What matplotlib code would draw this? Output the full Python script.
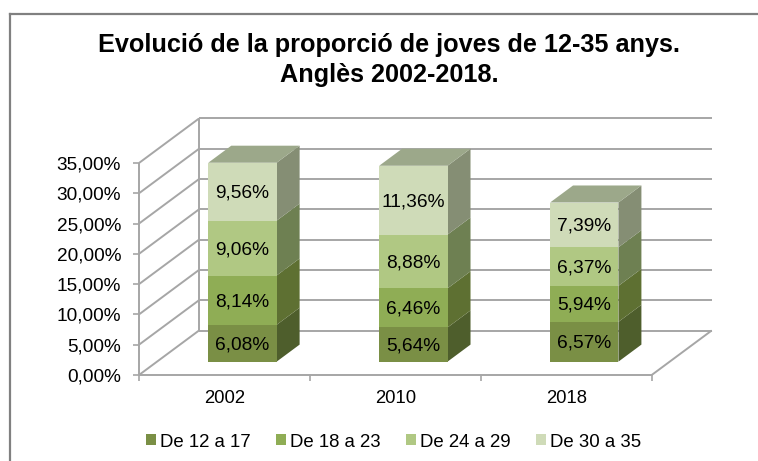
import matplotlib
matplotlib.use("Agg")
import matplotlib.pyplot as plt
from matplotlib.patches import Polygon, Rectangle

W, H = 758, 461

YEARS = ["2002", "2010", "2018"]
SERIES = ["De 12 a 17", "De 18 a 23", "De 24 a 29", "De 30 a 35"]
V_12_17 = [6.08, 5.64, 6.57]
V_18_23 = [8.14, 6.46, 5.94]
V_24_29 = [9.06, 8.88, 6.37]
V_30_35 = [9.56, 11.36, 7.39]
YTICKS = [0, 5, 10, 15, 20, 25, 30, 35]

FRONT = ["#7A8F45", "#8FAD55", "#B0C883", "#CFDBB8"]
SIDE = ["#4E5E2C", "#5E7032", "#6E8052", "#858E74"]
TOP = "#9CA88A"
GRID = "#A6A6A6"

# pixel position of the front plane of the 3d box
LEFT, RIGHT = 139, 651.7
TOPY, BOTTOM = 163, 375

plt.rcParams["font.family"] = ["Liberation Sans", "DejaVu Sans"]


def px(n):
    return n * 72 / 100


fig = plt.figure(figsize=(W / 100, H / 100), dpi=100)
ax = fig.add_axes([LEFT / W, 1 - BOTTOM / H, (RIGHT - LEFT) / W, (BOTTOM - TOPY) / H])
ax.set_xlim(-0.5, 2.5)
ax.set_ylim(0, 35)
ax.patch.set_visible(False)

# depth of the box and of the bars, in data units
ux = (RIGHT - LEFT) / 3
uy = (BOTTOM - TOPY) / 35
BOX_DX, BOX_DY = 60 / ux, 44.5 / uy
BAR_START = 0.30
BAR_END = 0.683
BAR_W = 0.40


def project(x, y, d):
    return x + d * BOX_DX, y + d * BOX_DY


def draw_line(p, q, z=1):
    ax.plot([p[0], q[0]], [p[1], q[1]], color=GRID, lw=1.4, clip_on=False,
            zorder=z, solid_capstyle="butt")


# walls
for v in YTICKS:
    draw_line(project(-0.5, v, 0), project(-0.5, v, 1))
    draw_line(project(-0.5, v, 1), project(2.5, v, 1))
draw_line(project(-0.5, 0, 0), project(-0.5, 35, 0))
draw_line(project(-0.5, 0, 0), project(2.5, 0, 0))
draw_line(project(2.5, 0, 0), project(2.5, 0, 1))
draw_line(project(-0.5, 0, 1), project(-0.5, 35, 1))

# stacked bars
rows = [V_12_17, V_18_23, V_24_29, V_30_35]
for i in range(len(YEARS)):
    base = 0
    x0, x1 = i - BAR_W / 2, i + BAR_W / 2
    for s, row in enumerate(rows):
        val = row[i]
        top = base + val
        front = [project(x0, base, BAR_START), project(x1, base, BAR_START),
                 project(x1, top, BAR_START), project(x0, top, BAR_START)]
        side = [project(x1, base, BAR_START), project(x1, base, BAR_END),
                project(x1, top, BAR_END), project(x1, top, BAR_START)]
        ax.add_patch(Polygon(side, closed=True, fc=SIDE[s], ec="none", clip_on=False, zorder=3))
        ax.add_patch(Polygon(front, closed=True, fc=FRONT[s], ec="none", clip_on=False, zorder=4))
        cx, cy = project(i, base + val / 2, BAR_START)
        ax.annotate("{:.2f}%".format(val).replace(".", ","), (cx, cy), xytext=(0, -1.1),
                    textcoords="offset points", ha="center", va="center",
                    fontsize=px(19.2), color="black", zorder=6, annotation_clip=False)
        base = top
    roof = [project(x0, base, BAR_START), project(x1, base, BAR_START),
            project(x1, base, BAR_END), project(x0, base, BAR_END)]
    ax.add_patch(Polygon(roof, closed=True, fc=TOP, ec="none", clip_on=False, zorder=5))

for name in ["top", "right", "left", "bottom"]:
    ax.spines[name].set_visible(False)

ax.set_yticks(YTICKS)
ax.set_yticklabels(["{:.2f}%".format(v).replace(".", ",") for v in YTICKS], fontsize=px(19))
ax.set_xticks(range(len(YEARS)))
ax.set_xticklabels(YEARS, fontsize=px(18.5))
ax.set_xticks([-0.5, 0.5, 1.5, 2.5], minor=True)
ax.tick_params(axis="x", which="major", length=0, pad=10.5)
ax.tick_params(axis="x", which="minor", length=4, width=1.2, color=GRID)
ax.tick_params(axis="y", length=4.3, width=1.2, color=GRID, pad=8.6)

fig.text(389.5 / W, 1 - 45 / H, "Evolució de la proporció de joves de 12-35 anys.",
         ha="center", va="center", fontsize=px(25.2), fontweight="bold")
fig.text(389.5 / W, 1 - 75 / H, "Anglès 2002-2018.",
         ha="center", va="center", fontsize=px(25.2), fontweight="bold")

handles = [Rectangle((0, 0), 1, 1, fc=c, ec="none") for c in FRONT]
fig.legend(handles, SERIES, loc="center", bbox_to_anchor=(393.5 / W, 1 - 442 / H), ncol=4,
           frameon=False, fontsize=px(18.6), handlelength=0.54, handleheight=0.54,
           handletextpad=0.215, columnspacing=1.35)

# chart border, top and left only are in the crop
fig.add_artist(plt.Line2D([10 / W, 10 / W], [0, 1 - 14.5 / H], color="#808080", lw=1.6))
fig.add_artist(plt.Line2D([10 / W, 1], [1 - 14.5 / H, 1 - 14.5 / H], color="#808080", lw=1.6))

fig.savefig("out.png", dpi=100)
